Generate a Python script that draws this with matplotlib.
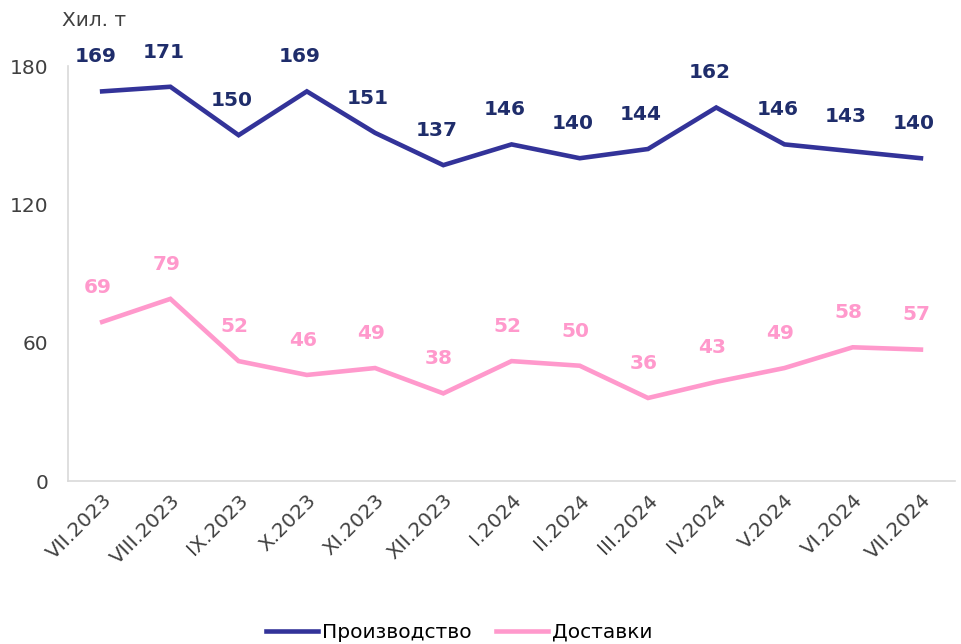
import matplotlib.pyplot as plt

months = ["VII.2023", "VIII.2023", "IX.2023", "X.2023", "XI.2023", "XII.2023",
          "I.2024", "II.2024", "III.2024", "IV.2024", "V.2024", "VI.2024", "VII.2024"]
production = [169, 171, 150, 169, 151, 137, 146, 140, 144, 162, 146, 143, 140]
deliveries = [69, 79, 52, 46, 49, 38, 52, 50, 36, 43, 49, 58, 57]

NAVY = "#333399"
NAVY_TXT = "#1F2D6B"
PINK = "#FF99CC"
GRID = "#D9D9D9"

plt.rcParams['font.family'] = ['DejaVu Sans']

fig = plt.figure(figsize=(9.61, 6.44), dpi=100)
ax = fig.add_axes([0.0708, 0.2531, 0.9230, 0.6444])

x = list(range(len(months)))
ax.plot(x, production, color=NAVY, lw=3.3, solid_joinstyle='miter', label="Производство")
ax.plot(x, deliveries, color=PINK, lw=3.3, solid_joinstyle='miter', label="Доставки")

for i, v in enumerate(production):
    ax.annotate(str(v), (i, v), xytext=(-5, 25), textcoords='offset points',
                ha='center', va='center', fontsize=14.5, fontweight='bold', color=NAVY_TXT)
for i, v in enumerate(deliveries):
    ax.annotate(str(v), (i, v), xytext=(-3, 25), textcoords='offset points',
                ha='center', va='center', fontsize=14.5, fontweight='bold', color=PINK)

ax.set_xlim(-0.5, len(months) - 0.5)
ax.set_ylim(0, 180)
ax.set_yticks([0, 60, 120, 180])
ax.set_xticks(x)
ax.set_xticklabels(months, rotation=45, ha='right', rotation_mode='anchor')
ax.tick_params(axis='both', length=0, labelsize=14.5, colors='#404040')
ax.tick_params(axis='y', pad=14)
ax.tick_params(axis='x', pad=7)

for s in ['top', 'right']:
    ax.spines[s].set_visible(False)
for s in ['left', 'bottom']:
    ax.spines[s].set_color(GRID)
    ax.spines[s].set_linewidth(1.2)

fig.text(0.064, 0.968, "Хил. т", fontsize=14.5, color='#404040', ha='left', va='center')

fig.legend(loc='center', bbox_to_anchor=(0.478, 0.018), ncol=2, frameon=False,
           fontsize=14.5, handlelength=2.6, handletextpad=0.2, columnspacing=1.2)

fig.savefig("out.png", dpi=100)
